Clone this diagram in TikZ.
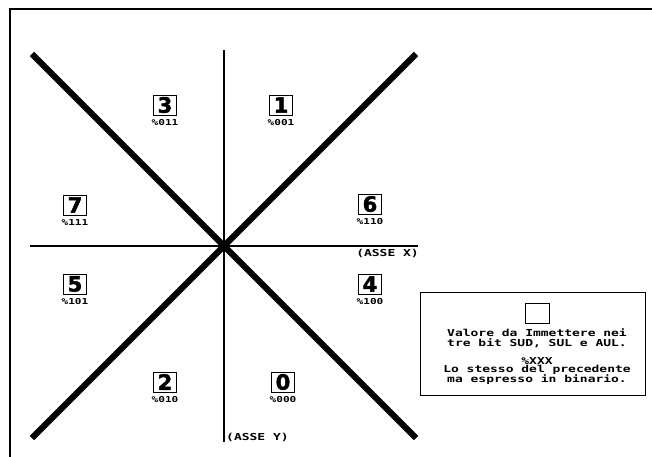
\documentclass[tikz,border=0pt]{standalone}
\usepackage{fontspec}
\newfontfamily\cbmfont{DejaVu Sans Mono}[FakeStretch=1.35]
\newfontfamily\digfont{DejaVu Sans}[BoldFeatures={FakeBold=2}]
\usetikzlibrary{positioning}

\begin{document}
\begin{tikzpicture}[
  x=0.03cm, y=-0.03cm,
  dirbox/.style={draw, line width=0.8pt, inner sep=0pt, minimum width=0.68cm,
                 minimum height=0.6cm, font=\digfont\bfseries\fontsize{18}{18}\selectfont},
  bin/.style={inner sep=0pt, font=\cbmfont\bfseries\fontsize{7}{7}\selectfont},
  txt/.style={inner sep=0pt, align=center,
              font=\cbmfont\bfseries\fontsize{8.2}{8.6}\selectfont},
  axis/.style={line width=2.5pt},
  diag/.style={line width=5.2pt},
  node distance=3pt
]
  \useasboundingbox (0,0) rectangle (652,457);

  % frame
  \draw[line width=1pt] (10,457) -- (10,9) -- (652,9);

  % ends of the lines
  \coordinate (o)  at (224,246);
  \coordinate (nw) at (32,54);
  \coordinate (ne) at (416,54);
  \coordinate (sw) at (32,438);
  \coordinate (se) at (416,438);
  \coordinate (n)  at (224,50);
  \coordinate (s)  at (224,442);
  \coordinate (w)  at (30,246);
  \coordinate (e)  at (418,246);

  \draw[diag] (nw) -- (se);
  \draw[diag] (ne) -- (sw);
  \draw[axis] (n) -- (s);
  \draw[axis] (w) -- (e);

  \node[txt, anchor=north east] (ax) at (419,249) {(ASSE X)};
  \node[txt, anchor=west] (ay) at (226,437) {(ASSE Y)};

  % directions
  \node[dirbox] (d3) at (165,105) {3};
  \node[dirbox] (d1) at (281,105) {1};
  \node[dirbox] (d7) at (75,205)  {7};
  \node[dirbox] (d6) at (370,204) {6};
  \node[dirbox] (d5) at (75,284)  {5};
  \node[dirbox] (d4) at (370,284) {4};
  \node[dirbox] (d2) at (165,382) {2};
  \node[dirbox] (d0) at (283,382) {0};

  \node[bin, below=of d3] {\%011};
  \node[bin, below=of d1] {\%001};
  \node[bin, below=of d7] {\%111};
  \node[bin, below=of d6] {\%110};
  \node[bin, below=of d5] {\%101};
  \node[bin, below=of d4] {\%100};
  \node[bin, below=of d2] {\%010};
  \node[bin, below=of d0] {\%000};

  % legend
  \node[draw, line width=0.8pt, minimum width=6.75cm, minimum height=3.1cm] (leg) at (533,344) {};
  \node[draw, line width=0.6pt, minimum width=0.72cm, minimum height=0.6cm] (sq) at (537,313) {};
  \node[txt] (val) at (537,338) {Valore da Immettere nei\\tre bit SUD, SUL e AUL.};
  \node[txt] (xxx) at (537,361) {\%XXX};
  \node[txt] (bin) at (537,375) {Lo stesso del precedente\\ma espresso in binario.};
\end{tikzpicture}
\end{document}
